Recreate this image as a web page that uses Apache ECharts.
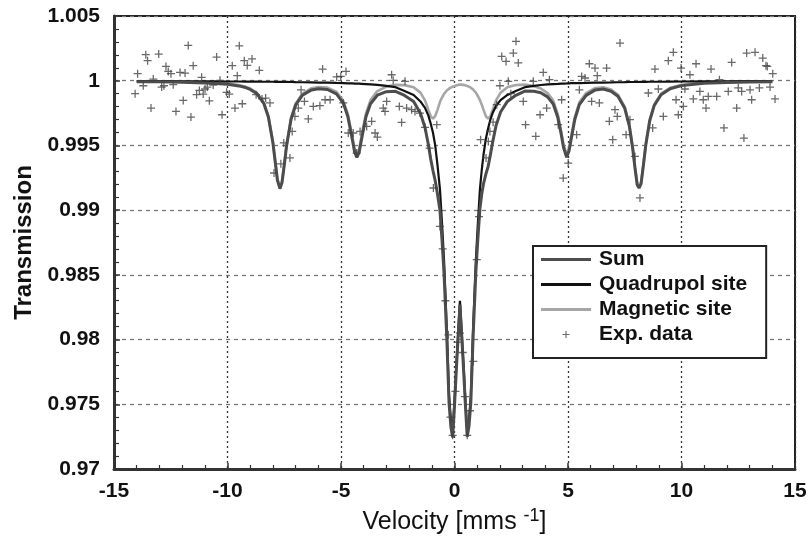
<!DOCTYPE html>
<html>
<head>
<meta charset="utf-8">
<script src="https://cdn.jsdelivr.net/npm/echarts@6/dist/echarts.min.js"></script>
<style>
html,body{margin:0;padding:0;background:#fff;}
#chart{width:810px;height:544px;}
</style>
</head>
<body>
<div id="chart"></div>
<script>
// Velocity grid of the fitted curves (mm/s)
const curveV = [
  -14, -13, -12, -11, -10.5, -10, -9.5, -9.2, -9.0, -8.7,
  -8.4, -8.2, -8.0, -7.9, -7.8, -7.69, -7.6, -7.5, -7.4, -7.2,
  -7.0, -6.7, -6.3, -6.0, -5.6, -5.2, -4.9, -4.7, -4.5, -4.4,
  -4.3, -4.2, -4.1, -3.9, -3.7, -3.4, -3.0, -2.6, -2.2, -1.8,
  -1.5, -1.3, -1.15, -1.05, -0.95, -0.85, -0.75, -0.64, -0.55, -0.46,
  -0.34, -0.24, -0.16, -0.08, 0.0, 0.08, 0.16, 0.24, 0.32, 0.40,
  0.48, 0.56, 0.64, 0.72, 0.82, 0.94, 1.03, 1.12, 1.2, 1.28,
  1.38, 1.48, 1.58, 1.68, 1.83, 2.03, 2.33, 2.7, 3.1, 3.5,
  3.8, 4.1, 4.35, 4.55, 4.7, 4.8, 4.94, 5.05, 5.15, 5.3,
  5.5, 5.8, 6.2, 6.55, 6.9, 7.2, 7.5, 7.7, 7.85, 7.95,
  8.05, 8.13, 8.22, 8.32, 8.43, 8.6, 8.8, 9.1, 9.5, 10,
  11, 12, 13, 14
];
// Sum fit
const sumT = [
  0.99992, 0.99992, 0.99989, 0.99983, 0.99979, 0.99972, 0.99960, 0.99947, 0.99933, 0.99899,
  0.99824, 0.99720, 0.99521, 0.99375, 0.99230, 0.99166, 0.99211, 0.99346, 0.99493, 0.99702,
  0.99811, 0.99888, 0.99929, 0.99938, 0.99932, 0.99898, 0.99827, 0.99724, 0.99545, 0.99448,
  0.99408, 0.99447, 0.99543, 0.99722, 0.99822, 0.99888, 0.99915, 0.99918, 0.99886, 0.99840,
  0.99748, 0.99638, 0.99505, 0.99397, 0.99306, 0.99227, 0.99125, 0.98997, 0.98770, 0.98508,
  0.98014, 0.97508, 0.97327, 0.97244, 0.97488, 0.97764, 0.98018, 0.98270, 0.98020, 0.97768,
  0.97494, 0.97250, 0.97334, 0.97516, 0.98022, 0.98518, 0.98782, 0.99010, 0.99125, 0.99205,
  0.99277, 0.99336, 0.99427, 0.99525, 0.99653, 0.99758, 0.99840, 0.99887, 0.99920, 0.99918,
  0.99907, 0.99875, 0.99820, 0.99716, 0.99587, 0.99486, 0.99409, 0.99460, 0.99559, 0.99700,
  0.99815, 0.99887, 0.99929, 0.99936, 0.99919, 0.99880, 0.99787, 0.99652, 0.99476, 0.99326,
  0.99194, 0.99171, 0.99205, 0.99344, 0.99507, 0.99690, 0.99809, 0.99892, 0.99938, 0.99962,
  0.99980, 0.99987, 0.99991, 0.99992
];
// Quadrupole site fit
const quadT = [
  0.99997, 0.99997, 0.99996, 0.99995, 0.99995, 0.99994, 0.99994, 0.99993, 0.99993, 0.99993,
  0.99992, 0.99992, 0.99992, 0.99991, 0.99991, 0.99991, 0.99991, 0.99991, 0.99991, 0.99990,
  0.99989, 0.99988, 0.99987, 0.99986, 0.99985, 0.99983, 0.99982, 0.99980, 0.99979, 0.99978,
  0.99978, 0.99977, 0.99976, 0.99974, 0.99972, 0.99968, 0.99960, 0.99950, 0.99920, 0.99890,
  0.99840, 0.99790, 0.99730, 0.99670, 0.99600, 0.99500, 0.99350, 0.99160, 0.98900, 0.98610,
  0.98090, 0.97570, 0.97380, 0.97290, 0.97530, 0.97800, 0.98050, 0.98300, 0.98050, 0.97800,
  0.97530, 0.97290, 0.97380, 0.97570, 0.98090, 0.98610, 0.98900, 0.99160, 0.99310, 0.99430,
  0.99550, 0.99630, 0.99700, 0.99750, 0.99805, 0.99850, 0.99890, 0.99920, 0.99950, 0.99960,
  0.99967, 0.99971, 0.99974, 0.99975, 0.99977, 0.99978, 0.99979, 0.99980, 0.99981, 0.99981,
  0.99982, 0.99983, 0.99985, 0.99986, 0.99987, 0.99988, 0.99989, 0.99990, 0.99990, 0.99990,
  0.99990, 0.99991, 0.99991, 0.99991, 0.99991, 0.99992, 0.99992, 0.99992, 0.99993, 0.99994,
  0.99995, 0.99996, 0.99997, 0.99997
];
// Magnetic site fit
const magT = [
  0.99995, 0.99995, 0.99993, 0.99988, 0.99984, 0.99978, 0.99966, 0.99954, 0.99940, 0.99906,
  0.99832, 0.99728, 0.99529, 0.99384, 0.99239, 0.99175, 0.99220, 0.99355, 0.99502, 0.99712,
  0.99822, 0.99900, 0.99942, 0.99952, 0.99947, 0.99915, 0.99845, 0.99744, 0.99566, 0.99470,
  0.99430, 0.99470, 0.99567, 0.99748, 0.99850, 0.99920, 0.99955, 0.99968, 0.99966, 0.99950,
  0.99908, 0.99848, 0.99775, 0.99727, 0.99706, 0.99727, 0.99775, 0.99837, 0.99870, 0.99898,
  0.99924, 0.99938, 0.99947, 0.99954, 0.99958, 0.99964, 0.99968, 0.99970, 0.99970, 0.99968,
  0.99964, 0.99960, 0.99954, 0.99946, 0.99932, 0.99908, 0.99882, 0.99850, 0.99815, 0.99775,
  0.99727, 0.99706, 0.99727, 0.99775, 0.99848, 0.99908, 0.99950, 0.99967, 0.99970, 0.99958,
  0.99940, 0.99904, 0.99846, 0.99741, 0.99610, 0.99508, 0.99430, 0.99480, 0.99578, 0.99719,
  0.99833, 0.99904, 0.99944, 0.99950, 0.99932, 0.99892, 0.99798, 0.99662, 0.99486, 0.99336,
  0.99204, 0.99180, 0.99214, 0.99353, 0.99516, 0.99699, 0.99817, 0.99900, 0.99945, 0.99968,
  0.99985, 0.99991, 0.99994, 0.99995
];
// Experimental data
const expV = [
  -14.07, -13.96, -13.71, -13.60, -13.52, -13.37, -13.27, -13.03, -12.90, -12.80,
  -12.71, -12.61, -12.49, -12.39, -12.27, -12.09, -11.95, -11.87, -11.73, -11.61,
  -11.51, -11.36, -11.24, -11.14, -11.07, -10.99, -10.89, -10.80, -10.63, -10.48,
  -10.33, -10.24, -10.04, -9.92, -9.79, -9.67, -9.57, -9.48, -9.35, -9.26,
  -9.13, -8.92, -8.74, -8.60, -8.48, -8.32, -8.13, -7.95, -7.65, -7.52,
  -7.25, -7.15, -7.03, -6.88, -6.76, -6.61, -6.44, -6.22, -5.93, -5.81,
  -5.70, -5.48, -5.19, -5.01, -4.90, -4.78, -4.68, -4.46, -4.31, -4.16,
  -3.87, -3.65, -3.50, -3.40, -3.14, -3.06, -2.99, -2.77, -2.70, -2.43,
  -2.33, -2.18, -2.11, -1.89, -1.74, -1.52, -1.30, -1.10, -0.93, -0.78,
  -0.64, -0.52, -0.40, -0.27, -0.18, -0.08, 0.04, 0.14, 0.24, 0.36,
  0.46, 0.56, 0.68, 0.83, 0.98, 1.08, 1.15, 1.39, 1.49, 1.56,
  1.70, 1.86, 2.00, 2.08, 2.27, 2.37, 2.48, 2.59, 2.71, 2.81,
  3.03, 3.13, 3.47, 3.58, 3.77, 3.91, 4.06, 4.18, 4.57, 4.72,
  4.79, 5.01, 5.38, 5.50, 5.60, 5.75, 5.94, 6.04, 6.19, 6.29,
  6.38, 6.70, 6.82, 6.97, 7.07, 7.17, 7.29, 7.56, 7.73, 7.95,
  8.17, 8.54, 8.73, 8.83, 8.98, 9.20, 9.42, 9.64, 9.76, 9.86,
  9.98, 10.08, 10.15, 10.37, 10.52, 10.64, 10.81, 10.96, 11.08, 11.18,
  11.30, 11.55, 11.67, 11.87, 12.06, 12.21, 12.43, 12.50, 12.65, 12.75,
  12.87, 13.02, 13.09, 13.24, 13.43, 13.58, 13.72, 13.78, 13.90, 14.02,
  14.12
];
const expT = [
  0.99900, 1.00054, 0.99961, 1.00201, 1.00155, 0.99789, 1.00013, 1.00206, 0.99951, 0.99961,
  1.00110, 1.00072, 1.00054, 0.99969, 0.99763, 1.00064, 0.99848, 1.00059, 1.00273, 0.99719,
  1.00116, 0.99892, 0.99925, 1.00026, 0.99897, 0.99936, 0.99951, 0.99845, 0.99967, 1.00183,
  1.00003, 0.99737, 0.99910, 0.99897, 1.00116, 0.99789, 1.00039, 1.00270, 0.99822, 1.00155,
  1.00118, 1.00168, 0.99892, 1.00080, 0.99859, 0.99866, 0.99828, 0.99287, 0.99358, 0.99519,
  0.99403, 0.99608, 0.99724, 0.99789, 0.99930, 0.99840, 0.99705, 0.99801, 0.99807, 1.00090,
  0.99853, 0.99853, 1.00029, 1.00033, 0.99828, 1.00072, 0.99596, 0.99596, 0.99441, 0.99608,
  0.99647, 0.99686, 0.99596, 0.99565, 0.99789, 0.99763, 0.99840, 1.00046, 1.00003, 0.99801,
  0.99678, 0.99995, 0.99789, 0.99776, 0.99763, 0.99750, 0.99640, 0.99480, 0.99171, 0.99660,
  0.98874, 0.98700, 0.98300, 0.98037, 0.97400, 0.97260, 0.97600, 0.97980, 0.98050, 0.97900,
  0.97560, 0.97260, 0.97450, 0.97831, 0.98617, 0.98950, 0.99544, 0.99403, 0.99531, 0.99608,
  0.99680, 0.99815, 0.99961, 1.00188, 1.00149, 0.99995, 0.99900, 1.00214, 1.00304, 1.00137,
  0.99840, 0.99660, 0.99995, 0.99570, 0.99737, 1.00064, 0.99789, 1.00008, 0.99660, 0.99853,
  0.99248, 0.99364, 0.99583, 0.99930, 1.00033, 1.00021, 1.00131, 0.99840, 1.00098, 1.00039,
  0.99828, 1.00098, 0.99686, 0.99544, 0.99776, 0.99724, 1.00291, 0.99583, 0.99699, 0.99415,
  0.99094, 0.99905, 0.99635, 1.00090, 0.99936, 0.99724, 1.00155, 1.00219, 0.99853, 0.99737,
  1.00098, 0.99801, 0.99936, 1.00046, 0.99859, 1.00131, 0.99917, 0.99853, 0.99789, 0.99879,
  1.00090, 0.99879, 1.00008, 0.99635, 0.99917, 1.00141, 0.99789, 0.99944, 0.99917, 0.99557,
  1.00214, 0.99930, 0.99853, 1.00219, 0.99944, 1.00175, 1.00116, 1.00110, 0.99951, 1.00054,
  0.99859
];
const xTicks = { min: -15, max: 15, step: 5 };
const yTicks = { min: 0.97, max: 1.005, step: 0.005 };
const seriesNames = ['Sum', 'Quadrupol site', 'Magnetic site', 'Exp. data'];

const FONT = '"Liberation Sans", Arial, sans-serif';
const plusPath = 'path://M4.2,0H5.8V4.2H10V5.8H5.8V10H4.2V5.8H0V4.2H4.2Z';
const barPath = 'path://M0,0H50V3H0Z';

const pairs = (xs, ys) => xs.map((x, i) => [x, ys[i]]);

const chart = echarts.init(document.getElementById('chart'), null, { renderer: 'canvas' });
chart.setOption({
  animation: false,
  backgroundColor: '#ffffff',
  grid: {
    left: 114, right: 15, top: 16, bottom: 75,
    show: true, borderColor: '#222', borderWidth: 2, backgroundColor: 'transparent'
  },
  legend: {
    orient: 'vertical',
    left: 533, top: 246,
    padding: [3, 19, 13, 8],
    itemGap: 4,
    itemWidth: 50, itemHeight: 7,
    backgroundColor: '#fff',
    borderColor: '#222', borderWidth: 2, borderRadius: 0,
    textStyle: { fontFamily: FONT, fontSize: 21, fontWeight: 'bold', color: '#111', lineHeight: 21, padding: [0, 0, 0, 3] },
    data: [
      { name: seriesNames[0], icon: barPath },
      { name: seriesNames[1], icon: barPath },
      { name: seriesNames[2], icon: barPath },
      { name: seriesNames[3], icon: plusPath }
    ]
  },
  xAxis: {
    type: 'value',
    min: xTicks.min, max: xTicks.max, interval: xTicks.step,
    name: '{a|Velocity [mms }{s|-1}{a|]}',
    nameLocation: 'middle',
    nameGap: 38,
    nameTextStyle: {
      fontFamily: FONT, color: '#111',
      rich: {
        a: { fontFamily: FONT, fontSize: 25, color: '#111' },
        s: { fontFamily: FONT, fontSize: 18, color: '#111', padding: [0, 0, 12, 0] }
      }
    },
    axisLine: { show: true, onZero: false, lineStyle: { color: '#333', width: 3 } },
    axisTick: { show: true, inside: true, length: 6, lineStyle: { color: '#333', width: 1.5 } },
    minorTick: { show: true, splitNumber: 5, length: 4, lineStyle: { color: '#333', width: 1.2 } },
    axisLabel: { fontFamily: FONT, fontSize: 21, fontWeight: 'bold', color: '#111', margin: 12 },
    splitLine: { show: true, lineStyle: { color: '#333', width: 1.3, type: [2, 3] } }
  },
  yAxis: {
    type: 'value',
    min: yTicks.min, max: yTicks.max, interval: yTicks.step,
    name: 'Transmission',
    nameLocation: 'middle',
    nameGap: 66,
    nameTextStyle: { fontFamily: FONT, fontSize: 24, fontWeight: 'bold', color: '#111' },
    axisLine: { show: true, onZero: false, lineStyle: { color: '#333', width: 3 } },
    axisTick: { show: true, inside: true, length: 6, lineStyle: { color: '#333', width: 1.5 } },
    minorTick: { show: true, splitNumber: 5, length: 5, lineStyle: { color: '#333', width: 1.2 } },
    axisLabel: {
      fontFamily: FONT, fontSize: 21, fontWeight: 'bold', color: '#111', margin: 14,
      formatter: v => String(+v.toFixed(3))
    },
    splitLine: { show: true, lineStyle: { color: '#777', width: 1.3, type: [4, 4] } }
  },
  series: [
    {
      name: seriesNames[2], type: 'line', data: pairs(curveV, magT),
      symbol: 'none', z: 2,
      itemStyle: { color: '#a6a6a6' },
      lineStyle: { color: '#a6a6a6', width: 2.6 }
    },
    {
      name: seriesNames[1], type: 'line', data: pairs(curveV, quadT),
      symbol: 'none', z: 3,
      itemStyle: { color: '#111111' },
      lineStyle: { color: '#111111', width: 2.2 }
    },
    {
      name: seriesNames[0], type: 'line', data: pairs(curveV, sumT),
      symbol: 'none', z: 4,
      itemStyle: { color: '#4d4d4d' },
      lineStyle: { color: '#4d4d4d', width: 3 }
    },
    {
      name: seriesNames[3], type: 'scatter', data: pairs(expV, expT),
      symbol: plusPath, symbolSize: 8, z: 5,
      itemStyle: { color: '#444444' }
    }
  ]
});
</script>
</body>
</html>
